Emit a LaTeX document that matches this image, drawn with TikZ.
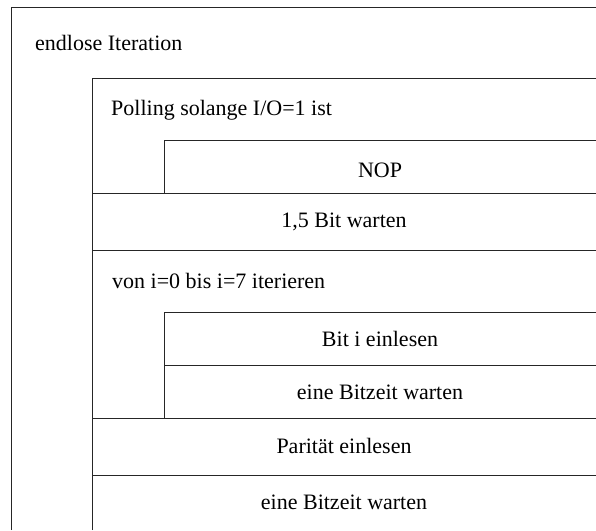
\documentclass[tikz,border=0pt]{standalone}
\usepackage{fontspec}
\setmainfont{Liberation Serif}
\begin{document}
\begin{tikzpicture}[x=1pt,y=-1pt,
  rule/.style={draw=black!85,line width=0.8pt},
  lbl/.style={inner sep=0pt,font=\fontsize{22}{26}\selectfont},
  left lbl/.style={lbl,anchor=west},
  mid lbl/.style={lbl,anchor=center}]
\useasboundingbox (0,0) rectangle (596,530);

% block edges
\draw[rule] (11,530) |- (596,7);
\draw[rule] (92,530) |- (596,78);
\draw[rule] (164,193) |- (596,140);
\draw[rule] (92,193) -- (596,193);
\draw[rule] (92,250) -- (596,250);
\draw[rule] (164,418) |- (596,312);
\draw[rule] (164,365) -- (596,365);
\draw[rule] (92,418) -- (596,418);
\draw[rule] (92,475) -- (596,475);

% texts
\node[left lbl] (loop) at (35,43) {endlose Iteration};
\node[left lbl] (poll) at (111,110) {Polling solange I/O=1 ist};
\node[mid lbl] (nop) at (380,170) {NOP};
\node[mid lbl] (wait15) at (344,222) {1,5 Bit warten};
\node[left lbl] (forloop) at (112,281) {von i=0 bis i=7 iterieren};
\node[mid lbl] (readbit) at (380,339) {Bit i einlesen};
\node[mid lbl] (waitbit) at (380,392) {eine Bitzeit warten};
\node[mid lbl] (parity) at (344,446) {Parität einlesen};
\node[mid lbl] (waitend) at (344,502) {eine Bitzeit warten};
\end{tikzpicture}
\end{document}
